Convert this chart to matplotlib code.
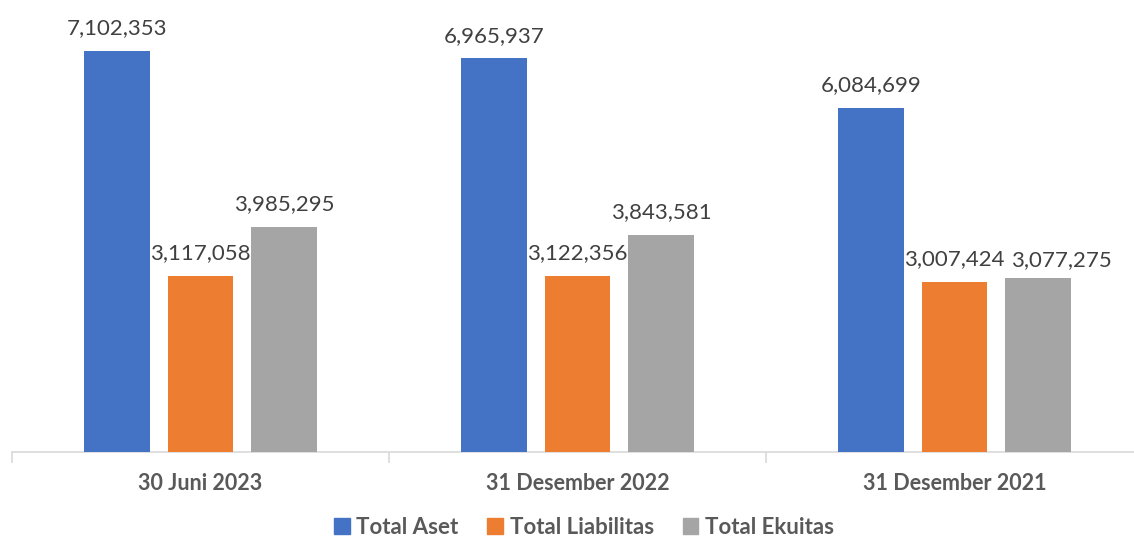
import matplotlib
matplotlib.use("Agg")
import matplotlib.pyplot as plt
from matplotlib.patches import Patch
import numpy as np

# data (in rupiah, as labelled)
periods = ["30 Juni 2023", "31 Desember 2022", "31 Desember 2021"]
series_names = ["Total Aset", "Total Liabilitas", "Total Ekuitas"]
total_aset = [7102353, 6965937, 6084699]
total_liabilitas = [3117058, 3122356, 3007424]
total_ekuitas = [3985295, 3843581, 3077275]

COLORS = ["#4472C4", "#ED7D31", "#A5A5A5"]
TEXT = "#595959"
FONT = "Lato"

W, H = 1134, 544
fig = plt.figure(figsize=(W / 100, H / 100), dpi=100)
fig.patch.set_facecolor("white")

# axes from x=12px to 1143px (past right edge), baseline at y=452px
ax = fig.add_axes([12 / W, (H - 452) / H, 1131 / W, 452 / H])

x = np.arange(len(periods))
offsets = [-0.2215, 0.0, 0.2215]
bar_w = 0.175

# labels that Excel nudged to avoid overlap: (series, group) -> (dx, dy) in points
nudge = {(2, 2): (17, -3)}

for si, (vals, off, col) in enumerate(zip([total_aset, total_liabilitas, total_ekuitas],
                                          offsets, COLORS)):
    bars = ax.bar(x + off, vals, width=bar_w, color=col, zorder=3)
    for gi, (b, v) in enumerate(zip(bars, vals)):
        dx, dy = nudge.get((si, gi), (0, 0))
        ax.annotate(f"{v:,}", (b.get_x() + b.get_width() / 2, b.get_height()),
                    xytext=(dx, 12 + dy), textcoords="offset points",
                    ha="center", va="baseline", fontsize=16,
                    color="#404040", family=FONT)

ax.set_xlim(-0.5, 2.5)
ax.set_ylim(0, 8000000)

for s in ["top", "right", "left"]:
    ax.spines[s].set_visible(False)
ax.spines["bottom"].set_color("#D9D9D9")
ax.spines["bottom"].set_linewidth(1.2)
ax.set_yticks([])

ax.set_xticks(x)
ax.set_xticklabels(periods, fontsize=15.5, fontweight="bold", color=TEXT, family=FONT)
ax.tick_params(axis="x", which="major", length=0, pad=15)
ax.set_xticks([-0.5, 0.5, 1.5, 2.5], minor=True)
ax.tick_params(axis="x", which="minor", length=8, color="#D9D9D9", width=1.2)

handles = [Patch(color=c, label=n) for c, n in zip(COLORS, series_names)]
leg = fig.legend(handles=handles, loc="lower center", bbox_to_anchor=(0.515, -0.025),
                 ncol=3, frameon=False, handlelength=0.7, handleheight=0.7,
                 handletextpad=0.3, columnspacing=1.3,
                 prop={"family": FONT, "size": 16, "weight": "bold"})
for t in leg.get_texts():
    t.set_color(TEXT)

fig.savefig("out.png", dpi=100)
